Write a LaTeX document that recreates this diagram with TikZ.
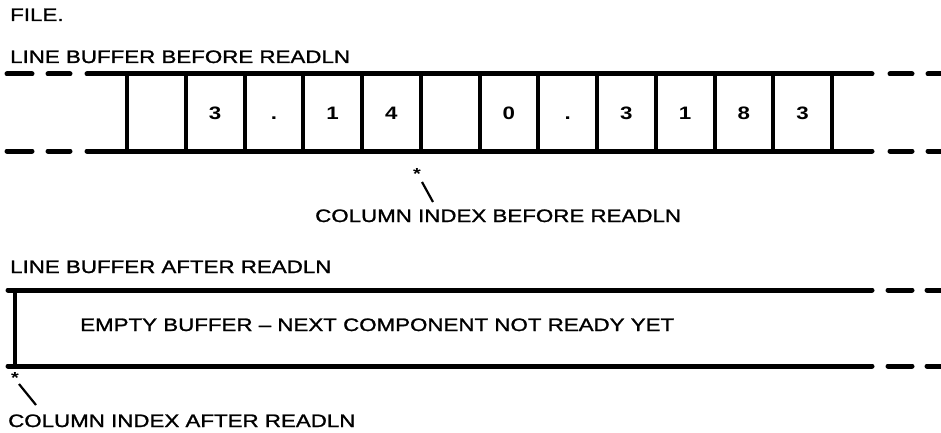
\documentclass[tikz,border=0pt]{standalone}
\usepackage{fontspec}
\setmainfont{Liberation Sans}[FakeStretch=1.24]
\newfontfamily\heavylabel{Liberation Sans}[FakeStretch=1.24,FakeBold=1.3]
\begin{document}
\begin{tikzpicture}[x=1pt,y=-1pt,
  hline/.style={line width=5pt,line cap=round},
  vline/.style={line width=4pt},
  lbl/.style={anchor=base west,inner sep=0pt,font=\fontsize{18}{20}\heavylabel},
  digit/.style={anchor=base,inner sep=0pt,font=\fontsize{18}{20}\selectfont\bfseries},
  star/.style={inner sep=0pt,font=\fontsize{16}{18}\selectfont\bfseries},
  pointer/.style={line width=2.2pt}]
\useasboundingbox (0,0) rectangle (941,433);

% titles
\node[lbl] (file) at (10,21) {FILE.};
\node[lbl] (hbefore) at (10,63) {LINE BUFFER BEFORE READLN};

% top buffer
\foreach \y in {74,151}{
  \draw[hline] (7,\y) -- (32,\y);
  \draw[hline] (48,\y) -- (70,\y);
  \draw[hline] (87,\y) -- (872,\y);
  \draw[hline] (890,\y) -- (912,\y);
  \draw[hline] (928,\y) -- (945,\y);
}
\foreach \i in {0,...,12}{
  \draw[vline] ({127+58.75*\i},74) -- ({127+58.75*\i},151);
}
\foreach \i/\t/\n in {1/3/c1,2/./c2,3/1/c3,4/4/c4,6/0/c6,7/./c7,8/3/c8,9/1/c9,10/8/c10,11/3/c11}{
  \node[digit] (\n) at ({127+58.75*\i+29.4},119) {\t};
}

% column index before
\node[star] (sbefore) at (417,174) {*};
\node[lbl] (ibefore) at (315,222) {COLUMN INDEX BEFORE READLN};
\coordinate (pb1) at (422,182);
\coordinate (pb2) at (433,202);
\draw[pointer] (pb1) -- (pb2);

% after
\node[lbl] (hafter) at (10,273) {LINE BUFFER AFTER READLN};
\foreach \y in {290,366}{
  \draw[hline] (8,\y) -- (872,\y);
  \draw[hline] (888,\y) -- (912,\y);
  \draw[hline] (927,\y) -- (945,\y);
}
\draw[vline] (15,290) -- (15,366);
\node[lbl] (empty) at (80,331) {EMPTY BUFFER – NEXT COMPONENT NOT READY YET};

\node[star] (safter) at (15,378) {*};
\node[lbl] (iafter) at (8,427) {COLUMN INDEX AFTER READLN};
\coordinate (pa1) at (19,384);
\coordinate (pa2) at (36,405);
\draw[pointer] (pa1) -- (pa2);
\end{tikzpicture}
\end{document}
